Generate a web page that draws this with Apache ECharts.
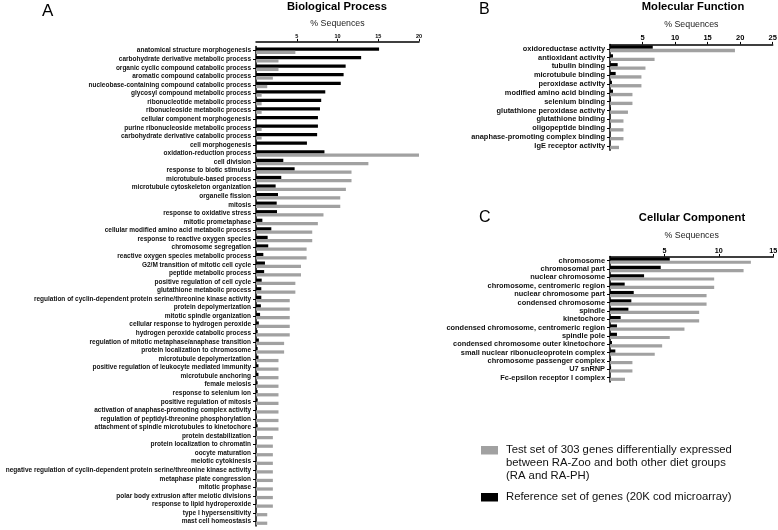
<!DOCTYPE html>
<html>
<head>
<meta charset="utf-8">
<script src="https://cdn.jsdelivr.net/npm/echarts@6/dist/echarts.min.js"></script>
<style>html,body{margin:0;padding:0;background:#fff}#c{width:778px;height:530px}</style>
</head>
<body>
<div id="c"></div>
<script>
// ---- Data ----
const bpCategories = [
  'anatomical structure morphogenesis','carbohydrate derivative metabolic process','organic cyclic compound catabolic process',
  'aromatic compound catabolic process','nucleobase-containing compound catabolic process','glycosyl compound metabolic process',
  'ribonucleotide metabolic process','ribonucleoside metabolic process','cellular component morphogenesis',
  'purine ribonucleoside metabolic process','carbohydrate derivative catabolic process','cell morphogenesis',
  'oxidation-reduction process','cell division','response to biotic stimulus','microtubule-based process',
  'microtubule cytoskeleton organization','organelle fission','mitosis','response to oxidative stress',
  'mitotic prometaphase','cellular modified amino acid metabolic process','response to reactive oxygen species',
  'chromosome segregation','reactive oxygen species metabolic process','G2/M transition of mitotic cell cycle',
  'peptide metabolic process','positive regulation of cell cycle','glutathione metabolic process',
  'regulation of cyclin-dependent protein serine/threonine kinase activity','protein depolymerization',
  'mitotic spindle organization','cellular response to hydrogen peroxide','hydrogen peroxide catabolic process',
  'regulation of mitotic metaphase/anaphase transition','protein localization to chromosome',
  'microtubule depolymerization','positive regulation of leukocyte mediated immunity','microtubule anchoring',
  'female meiosis','response to selenium ion','positive regulation of mitosis',
  'activation of anaphase-promoting complex activity','regulation of peptidyl-threonine phosphorylation',
  'attachment of spindle microtubules to kinetochore','protein destabilization','protein localization to chromatin',
  'oocyte maturation','meiotic cytokinesis',
  'negative regulation of cyclin-dependent protein serine/threonine kinase activity','metaphase plate congression',
  'mitotic prophase','polar body extrusion after meiotic divisions','response to lipid hydroperoxide',
  'type I hypersensitivity','mast cell homeostasis'
];
const bpRef = [15.1,12.9,11.0,10.75,10.4,8.5,8.0,7.85,7.6,7.6,7.5,6.25,
  8.4,3.35,4.74,3.1,2.41,2.7,2.54,2.58,0.78,1.88,1.43,1.5,0.9,1.1,
  1.0,0.7,0.65,0.65,0.6,0.5,0.35,0.2,0.35,0.2,0.3,0.3,0.3,0.2,0.2,
  0.2,0.1,0.1,0.2,0,0,0,0,0,0,0,0,0,0,0];
const bpTest = [4.83,2.76,2.76,2.07,1.38,0.69,0.69,0.69,0,0.69,0.69,0,
  20.0,13.79,11.72,11.72,11.03,10.34,10.34,8.28,7.59,6.9,6.9,6.21,6.21,5.52,
  5.52,4.83,4.83,4.14,4.14,4.14,4.14,4.14,3.45,3.45,2.76,2.76,2.76,2.76,2.76,
  2.76,2.76,2.76,2.76,2.07,2.07,2.07,2.07,2.07,2.07,2.07,2.07,2.07,1.38,1.38];

const mfCategories = ['oxidoreductase activity','antioxidant activity','tubulin binding','microtubule binding',
  'peroxidase activity','modified amino acid binding','selenium binding','glutathione peroxidase activity',
  'glutathione binding','oligopeptide binding','anaphase-promoting complex binding','IgE receptor activity'];
const mfRef = [6.57,0.46,1.18,0.87,0.3,0.46,0.15,0.15,0,0,0,0];
const mfTest = [19.2,6.85,5.45,4.83,4.83,3.45,3.45,2.76,2.07,2.07,2.07,1.38];

const ccCategories = ['chromosome','chromosomal part','nuclear chromosome','chromosome, centromeric region',
  'nuclear chromosome part','condensed chromosome','spindle','kinetochore',
  'condensed chromosome, centromeric region','spindle pole','condensed chromosome outer kinetochore',
  'small nuclear ribonucleoprotein complex','chromosome passenger complex','U7 snRNP','Fc-epsilon receptor I complex'];
const ccRef = [5.49,4.66,3.13,1.35,2.18,1.96,1.69,0.98,0.64,0.64,0.18,0.49,0.1,0.1,0];
const ccTest = [12.94,12.27,9.57,9.57,8.87,8.87,8.19,8.19,6.84,5.49,4.79,4.11,2.06,2.06,1.38];

const xTicksBP = {max: 20, interval: 5};
const xTicksMF = {max: 25, interval: 5};
const xTicksCC = {max: 15, interval: 5};

const legendTest = 'Test set of 303 genes differentially expressed\nbetween RA-Zoo and both other diet groups\n(RA and RA-PH)';
const legendRef = 'Reference set of genes (20K cod microarray)';

// ---- Styles ----
const GRAY = '#a1a1a1', BLACK = '#000';
const FONT = 'Liberation Sans, Arial, sans-serif';

function xAxis(gi, t, fs, offset, gap) {
  return {
    type: 'value', gridIndex: gi, position: 'top', min: 0, max: t.max, interval: t.interval, offset: offset,
    axisLine: {show: true, lineStyle: {color: '#000', width: 1.5}},
    axisTick: {show: true, length: 2.5, lineStyle: {color: '#000', width: 1}},
    splitLine: {show: false},
    axisLabel: {showMinLabel: false, fontSize: fs, fontWeight: 'bold', color: '#000', fontFamily: FONT, margin: 2},
    name: '% Sequences', nameLocation: 'middle', nameGap: gap,
    nameTextStyle: {fontSize: 8.8, color: '#222', fontFamily: FONT}
  };
}
function yAxis(gi, cats, fs) {
  return {
    type: 'category', gridIndex: gi, inverse: true, data: cats,
    axisLine: {show: true, onZero: false, lineStyle: {color: '#000', width: 1.5}},
    axisTick: {show: true, alignWithLabel: true, length: 3, lineStyle: {color: '#000', width: 1}},
    axisLabel: {interval: 0, fontSize: fs, fontWeight: 'bold', color: '#111', fontFamily: FONT, margin: 5}
  };
}
function bars(gi, data, color, name) {
  return {
    type: 'bar', name: name, xAxisIndex: gi, yAxisIndex: gi, data: data,
    barWidth: '38%', barGap: '0%', itemStyle: {color: color}, silent: true
  };
}
function title(text, left, top, fs, bold, center) {
  const t = {text: text, left: left, top: top, padding: 0,
    textStyle: {fontSize: fs, fontWeight: bold ? 'bold' : 'normal', color: '#000', fontFamily: FONT}};
  if (center) t.textAlign = 'center';
  return t;
}

const chart = echarts.init(document.getElementById('c'), null, {renderer: 'canvas'});
chart.setOption({
  animation: false,
  backgroundColor: '#fff',
  textStyle: {fontFamily: FONT},
  title: [
    title('A', 42, 3, 17, false),
    title('Biological Process', 337, 1, 11.2, true, true),
    title('B', 479, 2, 16, false),
    title('Molecular Function', 693, 1, 11.2, true, true),
    title('C', 479, 210, 16, false),
    title('Cellular Component', 692, 212, 11.2, true, true)
  ],
  grid: [
    {left: 256, top: 46.4, width: 163, height: 479.5, containLabel: false, outerBoundsMode: 'none'},
    {left: 610, top: 44.4, width: 162.7, height: 105.8, containLabel: false, outerBoundsMode: 'none'},
    {left: 610, top: 256.5, width: 163.3, height: 125.4, containLabel: false, outerBoundsMode: 'none'}
  ],
  xAxis: [xAxis(0, xTicksBP, 5.5, 5, 12.5), xAxis(1, xTicksMF, 7.5, 0, 15.5), xAxis(2, xTicksCC, 7.2, 0, 16)],
  yAxis: [yAxis(0, bpCategories, 6.5), yAxis(1, mfCategories, 7.4), yAxis(2, ccCategories, 7.4)],
  series: [
    bars(0, bpRef, BLACK, 'ref'), bars(0, bpTest, GRAY, 'test'),
    bars(1, mfRef, BLACK, 'ref'), bars(1, mfTest, GRAY, 'test'),
    bars(2, ccRef, BLACK, 'ref'), bars(2, ccTest, GRAY, 'test')
  ],
  graphic: [
    {type: 'rect', left: 481, top: 446, shape: {width: 17, height: 8.5}, style: {fill: GRAY}},
    {type: 'text', left: 506, top: 444, style: {text: legendTest, fontSize: 11.3, lineHeight: 12.7, fill: '#111', fontFamily: FONT}},
    {type: 'rect', left: 481, top: 493, shape: {width: 17, height: 8.5}, style: {fill: BLACK}},
    {type: 'text', left: 506, top: 491, style: {text: legendRef, fontSize: 11.3, lineHeight: 12.7, fill: '#111', fontFamily: FONT}}
  ]
});
</script>
</body>
</html>
